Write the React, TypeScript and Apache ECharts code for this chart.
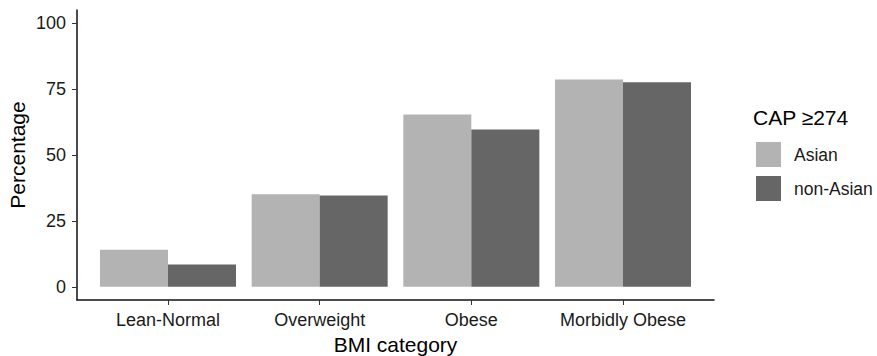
import React, { useEffect, useRef } from "react";
import * as echarts from "echarts";

const categories = ["Lean-Normal", "Overweight", "Obese", "Morbidly Obese"];
const asianValues = [14.1, 35.1, 65.4, 78.6];
const nonAsianValues = [8.5, 34.6, 59.7, 77.6];
const yTicks = [0, 25, 50, 75, 100];
const seriesNames = ["Asian", "non-Asian"];
const legendTitle = "CAP \u2265274";

const FONT = "Liberation Sans, Arial, sans-serif";

export default function App() {
  const ref = useRef<HTMLDivElement>(null);
  useEffect(() => {
    if (!ref.current) return;
    const chart = echarts.init(ref.current, undefined, { renderer: "svg" });
    const xPos = categories.map((_, i) => i + 1);
    chart.setOption({
      animation: false,
      textStyle: { fontFamily: FONT },
      grid: { left: 77, right: 163, top: 10, bottom: 56, containLabel: false, outerBoundsMode: "none" },
      legend: {
        orient: "vertical",
        left: 756,
        top: 142,
        padding: 0,
        itemWidth: 25,
        itemHeight: 25,
        itemGap: 9,
        icon: "rect",
        data: seriesNames,
        textStyle: { fontFamily: FONT, fontSize: 17.5, color: "#1a1a1a", padding: [0, 0, 0, 8] },
        selectedMode: false,
      },
      graphic: [
        {
          type: "text",
          left: 753,
          top: 107,
          style: { text: legendTitle, fontFamily: FONT, fontSize: 21, fill: "#000" },
        },
      ],
      xAxis: {
        type: "value",
        min: 0.4,
        max: 4.6,
        name: "BMI category",
        nameLocation: "middle",
        nameGap: 34,
        nameMoveOverlap: false,
        nameTextStyle: { fontFamily: FONT, fontSize: 21, color: "#000" },
        axisLine: { show: true, onZero: false, lineStyle: { color: "#111", width: 1.5 } },
        axisTick: { show: true, length: 5, lineStyle: { color: "#333" }, customValues: xPos },
        axisLabel: {
          color: "#1a1a1a",
          fontSize: 18,
          fontFamily: FONT,
          margin: 11,
          customValues: xPos,
          formatter: (v: number) => categories[Math.round(v) - 1] ?? "",
        },
        splitLine: { show: false },
      },
      yAxis: {
        type: "value",
        min: -5,
        max: 105,
        name: "Percentage",
        nameLocation: "middle",
        nameGap: 49,
        nameRotate: 90,
        nameMoveOverlap: false,
        nameTextStyle: { fontFamily: FONT, fontSize: 21, color: "#000" },
        axisLine: { show: true, onZero: false, lineStyle: { color: "#111", width: 1.5 } },
        axisTick: { show: true, length: 5, lineStyle: { color: "#333" }, customValues: yTicks },
        axisLabel: { color: "#1a1a1a", fontSize: 18, fontFamily: FONT, margin: 11, customValues: yTicks },
        splitLine: { show: false },
      },
      series: [
        {
          name: seriesNames[0],
          type: "bar",
          data: asianValues.map((v, i) => [xPos[i], v]),
          barWidth: 68,
          barGap: "0%",
          itemStyle: { color: "#b3b3b3" },
        },
        {
          name: seriesNames[1],
          type: "bar",
          data: nonAsianValues.map((v, i) => [xPos[i], v]),
          barWidth: 68,
          barGap: "0%",
          itemStyle: { color: "#666666" },
        },
      ],
    });
    return () => chart.dispose();
  }, []);
  return <div ref={ref} style={{ width: 877, height: 356, position: "absolute", left: 0, top: 0 }} />;
}
